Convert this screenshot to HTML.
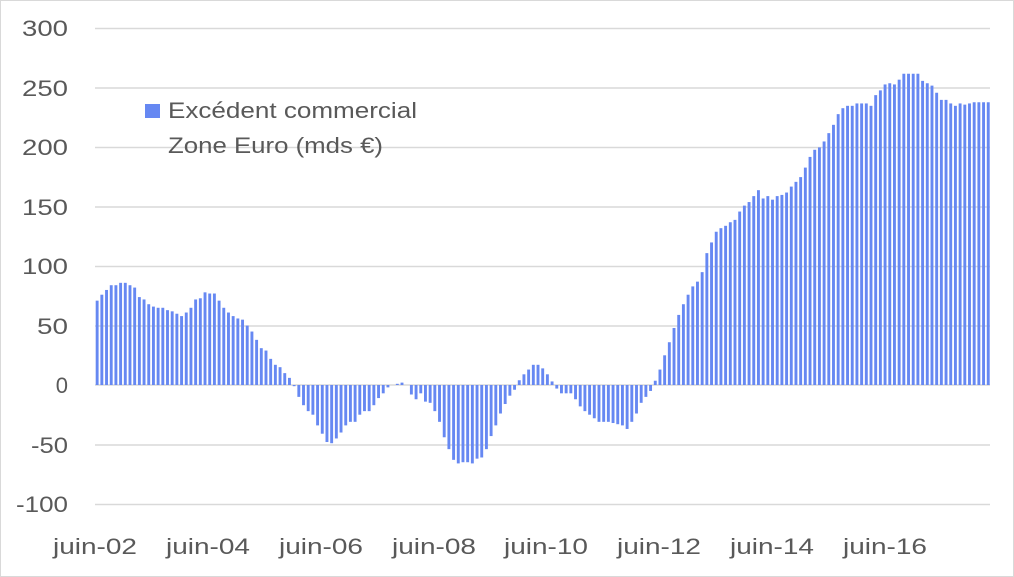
<!DOCTYPE html>
<html><head><meta charset="utf-8"><style>
html,body{margin:0;padding:0;background:#fff}
svg{display:block}
text{font-family:"Liberation Sans",sans-serif;fill:#595959}
</style></head><body>
<svg id="s" width="1014" height="577" xmlns="http://www.w3.org/2000/svg">
<rect x="0.5" y="0.5" width="1013" height="576" fill="#fff" stroke="#d9d9d9"/>
<g stroke="#d9d9d9" stroke-width="1.5">
<line x1="95" x2="990" y1="28.5" y2="28.5"/>
<line x1="95" x2="990" y1="88" y2="88"/>
<line x1="95" x2="990" y1="147.5" y2="147.5"/>
<line x1="95" x2="990" y1="207" y2="207"/>
<line x1="95" x2="990" y1="266.5" y2="266.5"/>
<line x1="95" x2="990" y1="326" y2="326"/>
<line x1="95" x2="990" y1="385" y2="385"/>
<line x1="95" x2="990" y1="445" y2="445"/>
<line x1="95" x2="990" y1="504.5" y2="504.5"/>
</g>
<g font-size="22" text-anchor="end">
<text x="68" y="36" textLength="46" lengthAdjust="spacingAndGlyphs">300</text>
<text x="68" y="96" textLength="46" lengthAdjust="spacingAndGlyphs">250</text>
<text x="68" y="155" textLength="46" lengthAdjust="spacingAndGlyphs">200</text>
<text x="68" y="215" textLength="46" lengthAdjust="spacingAndGlyphs">150</text>
<text x="68" y="274" textLength="46" lengthAdjust="spacingAndGlyphs">100</text>
<text x="68" y="334" textLength="31" lengthAdjust="spacingAndGlyphs">50</text>
<text x="68" y="393">0</text>
<text x="68" y="453" textLength="37" lengthAdjust="spacingAndGlyphs">-50</text>
<text x="68" y="512" textLength="52" lengthAdjust="spacingAndGlyphs">-100</text>
</g>
<g id="bars" fill="#6688f2"></g>
<g font-size="22" text-anchor="middle">
<text x="95" y="554" textLength="84" lengthAdjust="spacingAndGlyphs">juin-02</text>
<text x="208" y="554" textLength="84" lengthAdjust="spacingAndGlyphs">juin-04</text>
<text x="321" y="554" textLength="84" lengthAdjust="spacingAndGlyphs">juin-06</text>
<text x="434" y="554" textLength="84" lengthAdjust="spacingAndGlyphs">juin-08</text>
<text x="546" y="554" textLength="84" lengthAdjust="spacingAndGlyphs">juin-10</text>
<text x="659" y="554" textLength="84" lengthAdjust="spacingAndGlyphs">juin-12</text>
<text x="772" y="554" textLength="84" lengthAdjust="spacingAndGlyphs">juin-14</text>
<text x="885" y="554" textLength="84" lengthAdjust="spacingAndGlyphs">juin-16</text>
</g>
<rect x="145" y="104" width="15" height="14" fill="#6688f2"/>
<text x="168" y="118" font-size="22" textLength="249" lengthAdjust="spacingAndGlyphs">Excédent commercial</text>
<text x="168" y="153" font-size="22" textLength="215" lengthAdjust="spacingAndGlyphs">Zone Euro (mds €)</text>
</svg>
<script>
var v=[71,76,80,84,84,86,86,84,82,74,72,68,66,65,65,63,62,60,58,61,65,72,73,78,77,77,71,65,61,58,56,55,50,45,38,31,29,22,17,15,10,6,-1,-10,-17,-22,-25,-34,-41,-48,-49,-45,-40,-34,-31,-31,-25,-22,-22,-17,-11,-7,-2,0,1,2,0,-8,-12,-7,-14,-15,-22,-31,-44,-54,-63,-66,-65,-65,-66,-62,-61,-54,-43,-34,-24,-16,-9,-4,4,9,13,17,17,14,9,3,-3,-7,-7,-7,-12,-18,-22,-25,-28,-31,-31,-31,-32,-33,-34,-37,-31,-24,-15,-10,-5,3.6,13,25,36,48,59,68,76,83,87,95,111,120,129,132,134,137,139,146,151,154,159,164,157,159,156,159,160,162,167,171,175,183,192,198,200,205,212,219,228,233,235,235,237,237,237,235,244,248,253,254,253,257,262,262,262,262,256,254,252,246,240,240,237,235,237,236,237,238,238,238,238];
var g=document.getElementById('bars'),h='';
for(var i=0;i<v.length;i++){var x=95.7+4.69*i,y=385-v[i]*1.188;var t=Math.min(y,385),hh=Math.abs(v[i]*1.188);
h+='<rect x="'+x.toFixed(2)+'" y="'+t.toFixed(2)+'" width="2.9" height="'+hh.toFixed(2)+'"/>';}
g.innerHTML=h;
</script>
</body></html>
